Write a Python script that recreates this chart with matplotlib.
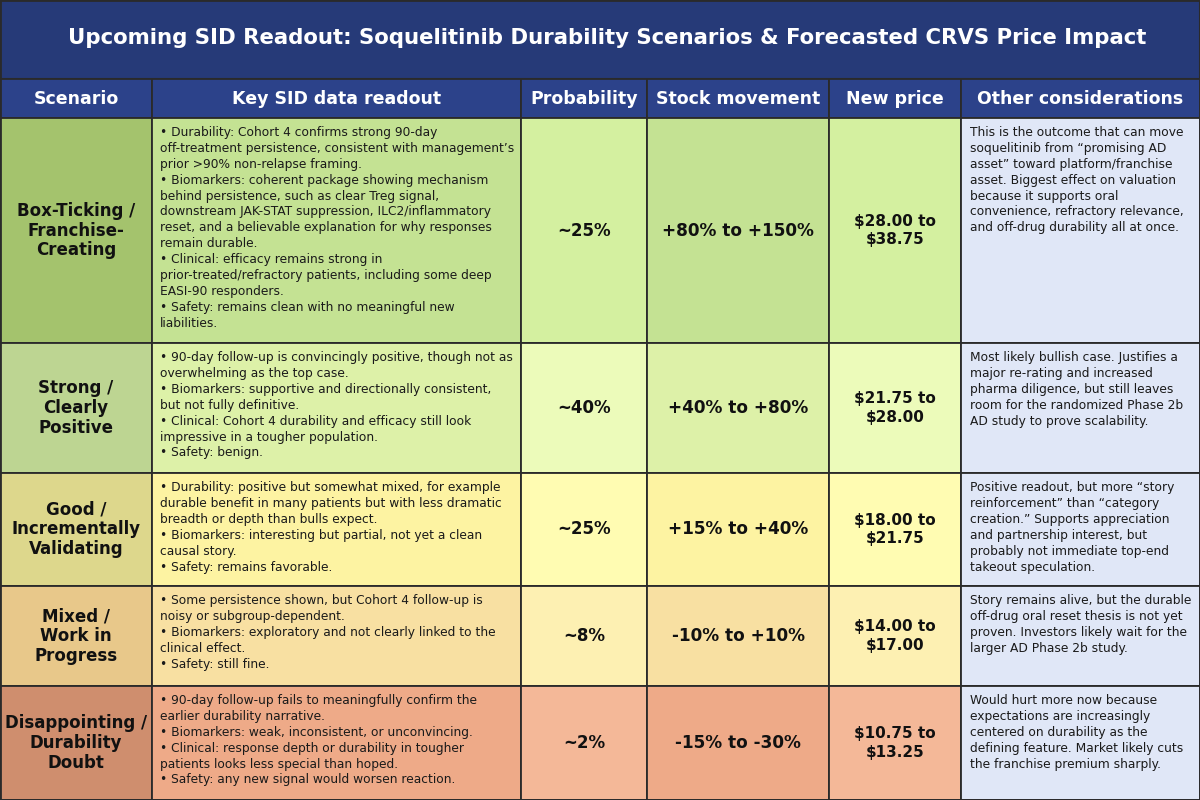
import matplotlib
matplotlib.use("Agg")
import matplotlib.pyplot as plt
from matplotlib.patches import Rectangle

plt.rcParams['font.family'] = ['DejaVu Sans']

title = "Upcoming SID Readout: Soquelitinib Durability Scenarios & Forecasted CRVS Price Impact"
columns = ["Scenario", "Key SID data readout", "Probability", "Stock movement", "New price", "Other considerations"]

scenarios = [
    "Box-Ticking /\nFranchise-\nCreating",
    "Strong /\nClearly\nPositive",
    "Good /\nIncrementally\nValidating",
    "Mixed /\nWork in\nProgress",
    "Disappointing /\nDurability\nDoubt",
]
readouts = [
    "• Durability: Cohort 4 confirms strong 90-day\noff-treatment persistence, consistent with management’s\nprior >90% non-relapse framing.\n"
    "• Biomarkers: coherent package showing mechanism\nbehind persistence, such as clear Treg signal,\ndownstream JAK-STAT suppression, ILC2/inflammatory\n"
    "reset, and a believable explanation for why responses\nremain durable.\n• Clinical: efficacy remains strong in\n"
    "prior-treated/refractory patients, including some deep\nEASI-90 responders.\n• Safety: remains clean with no meaningful new\nliabilities.",
    "• 90-day follow-up is convincingly positive, though not as\noverwhelming as the top case.\n• Biomarkers: supportive and directionally consistent,\n"
    "but not fully definitive.\n• Clinical: Cohort 4 durability and efficacy still look\nimpressive in a tougher population.\n• Safety: benign.",
    "• Durability: positive but somewhat mixed, for example\ndurable benefit in many patients but with less dramatic\nbreadth or depth than bulls expect.\n"
    "• Biomarkers: interesting but partial, not yet a clean\ncausal story.\n• Safety: remains favorable.",
    "• Some persistence shown, but Cohort 4 follow-up is\nnoisy or subgroup-dependent.\n• Biomarkers: exploratory and not clearly linked to the\nclinical effect.\n• Safety: still fine.",
    "• 90-day follow-up fails to meaningfully confirm the\nearlier durability narrative.\n• Biomarkers: weak, inconsistent, or unconvincing.\n"
    "• Clinical: response depth or durability in tougher\npatients looks less special than hoped.\n• Safety: any new signal would worsen reaction.",
]
probabilities = ["~25%", "~40%", "~25%", "~8%", "~2%"]
stock_moves = ["+80% to +150%", "+40% to +80%", "+15% to +40%", "-10% to +10%", "-15% to -30%"]
new_prices = ["$28.00 to\n$38.75", "$21.75 to\n$28.00", "$18.00 to\n$21.75", "$14.00 to\n$17.00", "$10.75 to\n$13.25"]
considerations = [
    "This is the outcome that can move\nsoquelitinib from “promising AD\nasset” toward platform/franchise\nasset. Biggest effect on valuation\n"
    "because it supports oral\nconvenience, refractory relevance,\nand off-drug durability all at once.",
    "Most likely bullish case. Justifies a\nmajor re-rating and increased\npharma diligence, but still leaves\nroom for the randomized Phase 2b\nAD study to prove scalability.",
    "Positive readout, but more “story\nreinforcement” than “category\ncreation.” Supports appreciation\nand partnership interest, but\n"
    "probably not immediate top-end\ntakeout speculation.",
    "Story remains alive, but the durable\noff-drug oral reset thesis is not yet\nproven. Investors likely wait for the\nlarger AD Phase 2b study.",
    "Would hurt more now because\nexpectations are increasingly\ncentered on durability as the\ndefining feature. Market likely cuts\nthe franchise premium sharply.",
]

# styling
scen_colors = ["#a4c36d", "#bdd592", "#ddd78c", "#e8c88a", "#cf8e6e"]
mid_colors = ["#c4e293", "#ddf1a8", "#fdf3a2", "#f8e0a2", "#eeaa88"]
light_colors = ["#d4f0a0", "#ecfbba", "#fffcb2", "#fdf0b2", "#f4b898"]
other_color = "#e0e7f7"
title_bg = "#263a78"
header_bg = "#2c428a"
edge = "#2a2a2a"

col_edges = [0, 152, 521, 647, 829, 961, 1200]
row_edges = [118, 343, 473, 586, 686, 800]
title_bottom = 79

fig = plt.figure(figsize=(12, 8), dpi=100)
ax = fig.add_axes([0, 0, 1, 1])
ax.set_xlim(0, 1200)
ax.set_ylim(800, 0)
ax.axis("off")

# title band
ax.add_patch(Rectangle((0, 0), 1200, title_bottom, facecolor=title_bg, edgecolor=edge, lw=1.5))
ax.text(607, title_bottom / 2 - 1, title, ha="center", va="center", color="white",
        fontsize=15.3, fontweight="bold")

# header row
for j, name in enumerate(columns):
    x0, x1 = col_edges[j], col_edges[j + 1]
    ax.add_patch(Rectangle((x0, title_bottom), x1 - x0, row_edges[0] - title_bottom,
                           facecolor=header_bg, edgecolor=edge, lw=1.3))
    ax.text((x0 + x1) / 2, (title_bottom + row_edges[0]) / 2, name, ha="center", va="center",
            color="white", fontsize=12.5, fontweight="bold")

for i in range(len(scenarios)):
    y0, y1 = row_edges[i], row_edges[i + 1]
    fills = [scen_colors[i], mid_colors[i], light_colors[i], mid_colors[i], light_colors[i], other_color]
    for j in range(6):
        x0, x1 = col_edges[j], col_edges[j + 1]
        ax.add_patch(Rectangle((x0, y0), x1 - x0, y1 - y0, facecolor=fills[j], edgecolor=edge, lw=1.3))
    yc = (y0 + y1) / 2
    ax.text((col_edges[0] + col_edges[1]) / 2, yc, scenarios[i], ha="center", va="center",
            fontsize=12, fontweight="bold", color="#111111", linespacing=1.12)
    ax.text(col_edges[1] + 8, y0 + 8, readouts[i], ha="left", va="top",
            fontsize=8.8, color="#1a1a1a", linespacing=1.29)
    ax.text((col_edges[2] + col_edges[3]) / 2, yc, probabilities[i], ha="center", va="center",
            fontsize=12, fontweight="bold", color="#111111")
    ax.text((col_edges[3] + col_edges[4]) / 2, yc, stock_moves[i], ha="center", va="center",
            fontsize=12.2, fontweight="bold", color="#111111")
    ax.text((col_edges[4] + col_edges[5]) / 2, yc, new_prices[i], ha="center", va="center",
            fontsize=11, fontweight="bold", color="#111111", linespacing=1.3)
    ax.text(col_edges[5] + 9, y0 + 8, considerations[i], ha="left", va="top",
            fontsize=8.8, color="#1a1a1a", linespacing=1.29)

ax.add_patch(Rectangle((0, 0), 1200, 800, facecolor="none", edgecolor=edge, lw=2))

fig.savefig("out.png", dpi=100)
